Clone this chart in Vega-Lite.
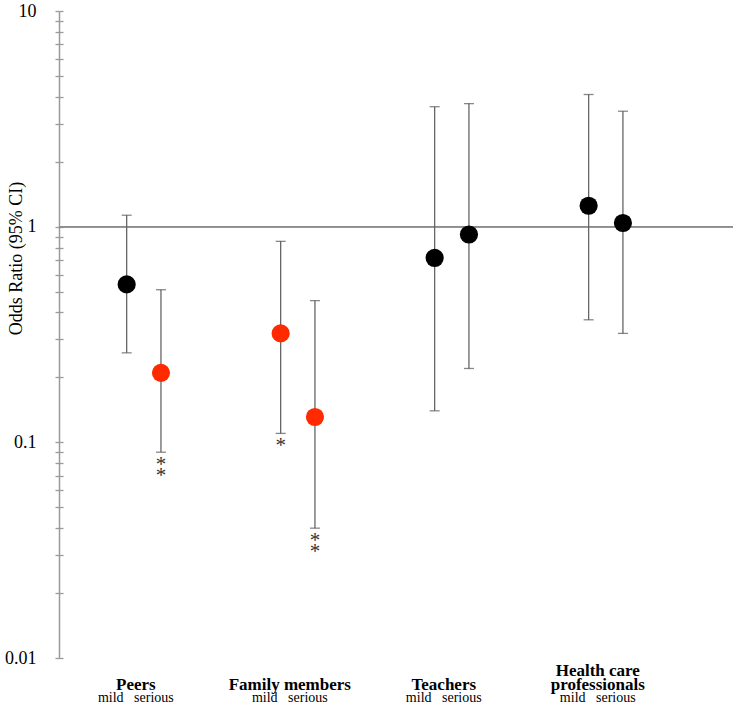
{
  "$schema": "https://vega.github.io/schema/vega-lite/v6.json",
  "width": 674,
  "height": 647,
  "autosize": {"type": "none"},
  "padding": {"left": 59, "top": 11, "right": 4, "bottom": 45},
  "background": "white",
  "config": {"view": {"stroke": null}, "font": "Liberation Serif"},
  "data": {
    "values": [
      {"group": "Peers", "severity": "mild", "or": 0.54, "lo": 0.26, "hi": 1.13, "significant": "no", "stars": ""},
      {"group": "Peers", "severity": "serious", "or": 0.21, "lo": 0.09, "hi": 0.51, "significant": "yes", "stars": "*\n*"},
      {"group": "Family members", "severity": "mild", "or": 0.32, "lo": 0.11, "hi": 0.855, "significant": "yes", "stars": "*"},
      {"group": "Family members", "severity": "serious", "or": 0.131, "lo": 0.04, "hi": 0.454, "significant": "yes", "stars": "*\n*"},
      {"group": "Teachers", "severity": "mild", "or": 0.716, "lo": 0.14, "hi": 3.6, "significant": "no", "stars": ""},
      {"group": "Teachers", "severity": "serious", "or": 0.92, "lo": 0.22, "hi": 3.72, "significant": "no", "stars": ""},
      {"group": "Health care professionals", "severity": "mild", "or": 1.25, "lo": 0.37, "hi": 4.1, "significant": "no", "stars": ""},
      {"group": "Health care professionals", "severity": "serious", "or": 1.04, "lo": 0.32, "hi": 3.43, "significant": "no", "stars": ""}
    ]
  },
  "resolve": {"axis": {"x": "independent", "y": "independent"}},
  "layer": [
    {
      "mark": {"type": "rule", "color": "#8c8c8c", "strokeWidth": 1.3},
      "encoding": {
        "y": {
          "datum": 1,
          "type": "quantitative",
          "scale": {"type": "log", "domain": [0.01, 10], "nice": false},
          "axis": {
            "orient": "left",
            "values": [0.01, 0.02, 0.03, 0.04, 0.05, 0.06, 0.07, 0.08, 0.09, 0.1, 0.2, 0.3, 0.4, 0.5, 0.6, 0.7, 0.8, 0.9, 1, 2, 3, 4, 5, 6, 7, 8, 9, 10],
            "labelExpr": "datum.value === 10 ? '10' : datum.value === 1 ? '1' : datum.value === 0.1 ? '0.1' : datum.value === 0.01 ? '0.01' : ''",
            "labelOverlap": false,
            "labelFlush": false,
            "labelBound": false,
            "labelFont": "Liberation Serif",
            "labelFontSize": 18,
            "labelColor": "#000000",
            "labelPadding": 19,
            "labelBaseline": "middle",
            "grid": false,
            "domain": true,
            "domainColor": "#9a9a9a",
            "domainWidth": 1.5,
            "ticks": true,
            "tickColor": "#9a9a9a",
            "tickSize": 4,
            "tickWidth": 1.3,
            "title": "Odds Ratio (95% CI)",
            "titleFont": "Liberation Serif",
            "titleFontSize": 18,
            "titleFontWeight": "normal",
            "titleColor": "#000000",
            "titleX": -34,
            "titleY": 247,
            "titleBaseline": "bottom"
          }
        }
      }
    },
    {
      "mark": {"type": "rule", "color": "#666666", "strokeWidth": 1.3},
      "encoding": {
        "x": {
          "field": "group", "type": "nominal",
          "sort": ["Peers", "Family members", "Teachers", "Health care professionals"],
          "scale": {"paddingInner": 0.5, "paddingOuter": 0.4385, "align": 0.343},
          "axis": {
            "orient": "bottom",
            "title": null,
            "domain": false,
            "ticks": false,
            "tickSize": 0,
            "grid": false,
            "labelAngle": 0,
            "labelFont": "Liberation Serif",
            "labelFontSize": 17,
            "labelFontWeight": "bold",
            "labelColor": "#000000",
            "labelPadding": 21,
            "labelBaseline": "bottom",
            "labelLineHeight": 14,
            "labelOffset": -8,
            "labelLimit": 0,
            "labelExpr": "datum.value == 'Health care professionals' ? ['Health care', 'professionals'] : ['', datum.value]"
          }
        },
        "xOffset": {"field": "severity", "type": "nominal", "sort": ["mild", "serious"], "scale": {"paddingInner": 0, "paddingOuter": 0.1224}},
        "y": {
          "field": "lo", "type": "quantitative",
          "scale": {"type": "log", "domain": [0.01, 10], "nice": false},
          "axis": {
            "orient": "left",
            "values": [0.01, 0.02, 0.03, 0.04, 0.05, 0.06, 0.07, 0.08, 0.09, 0.1, 0.2, 0.3, 0.4, 0.5, 0.6, 0.7, 0.8, 0.9, 1, 2, 3, 4, 5, 6, 7, 8, 9, 10],
            "labels": false,
            "domain": false,
            "grid": false,
            "ticks": true,
            "tickColor": "#9a9a9a",
            "tickSize": -4,
            "tickWidth": 1.3,
            "title": null
          }
        },
        "y2": {"field": "hi"}
      }
    },
    {
      "mark": {"type": "tick", "orient": "horizontal", "size": 10, "thickness": 1.3, "color": "#555555"},
      "encoding": {
        "x": {
          "field": "group", "type": "nominal",
          "sort": ["Peers", "Family members", "Teachers", "Health care professionals"],
          "scale": {"paddingInner": 0.5, "paddingOuter": 0.4385, "align": 0.343},
          "axis": {
            "orient": "bottom",
            "title": null,
            "domain": false,
            "ticks": false,
            "tickSize": 0,
            "grid": false,
            "labelAngle": 0,
            "labelFont": "Liberation Serif",
            "labelFontSize": 14,
            "labelFontWeight": "normal",
            "labelColor": "#000000",
            "labelPadding": 43,
            "labelBaseline": "alphabetic",
            "labelOffset": -8,
            "labelLimit": 0,
            "labelExpr": "'mild\u00a0\u00a0\u00a0serious'"
          }
        },
        "xOffset": {"field": "severity", "type": "nominal", "sort": ["mild", "serious"], "scale": {"paddingInner": 0, "paddingOuter": 0.1224}},
        "y": {"field": "lo", "type": "quantitative", "scale": {"type": "log", "domain": [0.01, 10], "nice": false}, "axis": null}
      }
    },
    {
      "mark": {"type": "tick", "orient": "horizontal", "size": 10, "thickness": 1.3, "color": "#555555"},
      "encoding": {
        "x": {
          "field": "group", "type": "nominal",
          "sort": ["Peers", "Family members", "Teachers", "Health care professionals"],
          "scale": {"paddingInner": 0.5, "paddingOuter": 0.4385, "align": 0.343},
          "axis": null
        },
        "xOffset": {"field": "severity", "type": "nominal", "sort": ["mild", "serious"], "scale": {"paddingInner": 0, "paddingOuter": 0.1224}},
        "y": {"field": "hi", "type": "quantitative", "scale": {"type": "log", "domain": [0.01, 10], "nice": false}, "axis": null}
      }
    },
    {
      "mark": {"type": "circle", "size": 330, "opacity": 1},
      "encoding": {
        "x": {
          "field": "group", "type": "nominal",
          "sort": ["Peers", "Family members", "Teachers", "Health care professionals"],
          "scale": {"paddingInner": 0.5, "paddingOuter": 0.4385, "align": 0.343},
          "axis": null
        },
        "xOffset": {"field": "severity", "type": "nominal", "sort": ["mild", "serious"], "scale": {"paddingInner": 0, "paddingOuter": 0.1224}},
        "y": {"field": "or", "type": "quantitative", "scale": {"type": "log", "domain": [0.01, 10], "nice": false}, "axis": null},
        "color": {"field": "significant", "type": "nominal", "scale": {"domain": ["no", "yes"], "range": ["#000000", "#ff2a00"]}, "legend": null}
      }
    },
    {
      "transform": [{"filter": "datum.stars != ''"}],
      "mark": {"type": "text", "baseline": "top", "dy": 2, "fontSize": 21, "lineBreak": "\n", "lineHeight": 11, "color": "#333333", "font": "Liberation Serif"},
      "encoding": {
        "x": {
          "field": "group", "type": "nominal",
          "sort": ["Peers", "Family members", "Teachers", "Health care professionals"],
          "scale": {"paddingInner": 0.5, "paddingOuter": 0.4385, "align": 0.343},
          "axis": null
        },
        "xOffset": {"field": "severity", "type": "nominal", "sort": ["mild", "serious"], "scale": {"paddingInner": 0, "paddingOuter": 0.1224}},
        "y": {"field": "lo", "type": "quantitative", "scale": {"type": "log", "domain": [0.01, 10], "nice": false}, "axis": null},
        "text": {"field": "stars", "type": "nominal"}
      }
    }
  ]
}
